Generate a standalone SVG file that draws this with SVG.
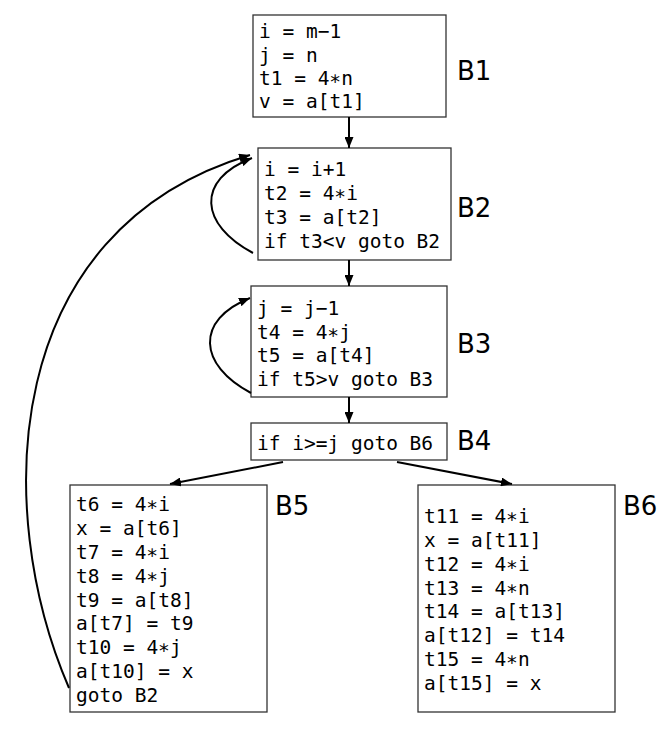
<svg xmlns="http://www.w3.org/2000/svg" width="670" height="732" viewBox="0 0 670 732">
<style>
.box{fill:#fff;stroke:#333;stroke-width:1.3}
.code{font-family:"DejaVu Sans Mono",monospace;font-size:19.5px;fill:#000}
.lbl{font-family:"DejaVu Sans",sans-serif;font-size:26px;fill:#000}
.edge{fill:none;stroke:#000;stroke-width:2}
</style>
<defs>
<marker id="ah" viewBox="0 0 11 9" refX="11" refY="4.5" markerWidth="11" markerHeight="9" markerUnits="userSpaceOnUse" orient="auto">
<path d="M0,0 L11,4.5 L0,9 z" fill="#000"/>
</marker>
</defs>
<rect width="670" height="732" fill="#fff"/>
<g id="B1">
<rect class="box" x="253" y="15" width="193" height="102"/>
<text class="code" x="259" y="38">i = m−1</text>
<text class="code" x="259" y="61.5">j = n</text>
<text class="code" x="259" y="85">t1 = 4∗n</text>
<text class="code" x="259" y="108">v = a[t1]</text>
<text class="lbl" x="457" y="80">B1</text>
</g>
<g id="B2">
<rect class="box" x="258" y="148" width="193" height="112"/>
<text class="code" x="264" y="176">i = i+1</text>
<text class="code" x="264" y="200">t2 = 4∗i</text>
<text class="code" x="264" y="224">t3 = a[t2]</text>
<text class="code" x="264" y="248">if t3&lt;v goto B2</text>
<text class="lbl" x="457" y="217">B2</text>
</g>
<g id="B3">
<rect class="box" x="251" y="286" width="196" height="111"/>
<text class="code" x="257" y="315">j = j−1</text>
<text class="code" x="257" y="339">t4 = 4∗j</text>
<text class="code" x="257" y="362">t5 = a[t4]</text>
<text class="code" x="257" y="386">if t5&gt;v goto B3</text>
<text class="lbl" x="457" y="353">B3</text>
</g>
<g id="B4">
<rect class="box" x="251" y="423" width="196" height="37"/>
<text class="code" x="257" y="450">if i&gt;=j goto B6</text>
<text class="lbl" x="457" y="450">B4</text>
</g>
<g id="B5">
<rect class="box" x="70" y="485" width="197" height="227"/>
<text class="code" x="76" y="511">t6 = 4∗i</text>
<text class="code" x="76" y="535">x = a[t6]</text>
<text class="code" x="76" y="559">t7 = 4∗i</text>
<text class="code" x="76" y="583">t8 = 4∗j</text>
<text class="code" x="76" y="607">t9 = a[t8]</text>
<text class="code" x="76" y="630">a[t7] = t9</text>
<text class="code" x="76" y="654">t10 = 4∗j</text>
<text class="code" x="76" y="678">a[t10] = x</text>
<text class="code" x="76" y="702">goto B2</text>
<text class="lbl" x="275" y="515">B5</text>
</g>
<g id="B6">
<rect class="box" x="418" y="485" width="197" height="227"/>
<text class="code" x="424" y="523">t11 = 4∗i</text>
<text class="code" x="424" y="547">x = a[t11]</text>
<text class="code" x="424" y="571">t12 = 4∗i</text>
<text class="code" x="424" y="595">t13 = 4∗n</text>
<text class="code" x="424" y="618">t14 = a[t13]</text>
<text class="code" x="424" y="642">a[t12] = t14</text>
<text class="code" x="424" y="666">t15 = 4∗n</text>
<text class="code" x="424" y="690">a[t15] = x</text>
<text class="lbl" x="623" y="515">B6</text>
</g>
<g id="edges">
<path class="edge" d="M349,117 L349,148" marker-end="url(#ah)"/>
<path class="edge" d="M349,260 L349,286" marker-end="url(#ah)"/>
<path class="edge" d="M349,397 L349,423" marker-end="url(#ah)"/>
<path class="edge" d="M283,462 L170,484" marker-end="url(#ah)"/>
<path class="edge" d="M397,462 L512,484" marker-end="url(#ah)"/>
<path class="edge" d="M253,253 C200,225 195,180 252,158" marker-end="url(#ah)"/>
<path class="edge" d="M251,393 C198,365 195,320 250,298" marker-end="url(#ah)"/>
<path class="edge" d="M69,688 C-8,510 0,230 250,155" marker-end="url(#ah)"/>
</g>
</svg>
